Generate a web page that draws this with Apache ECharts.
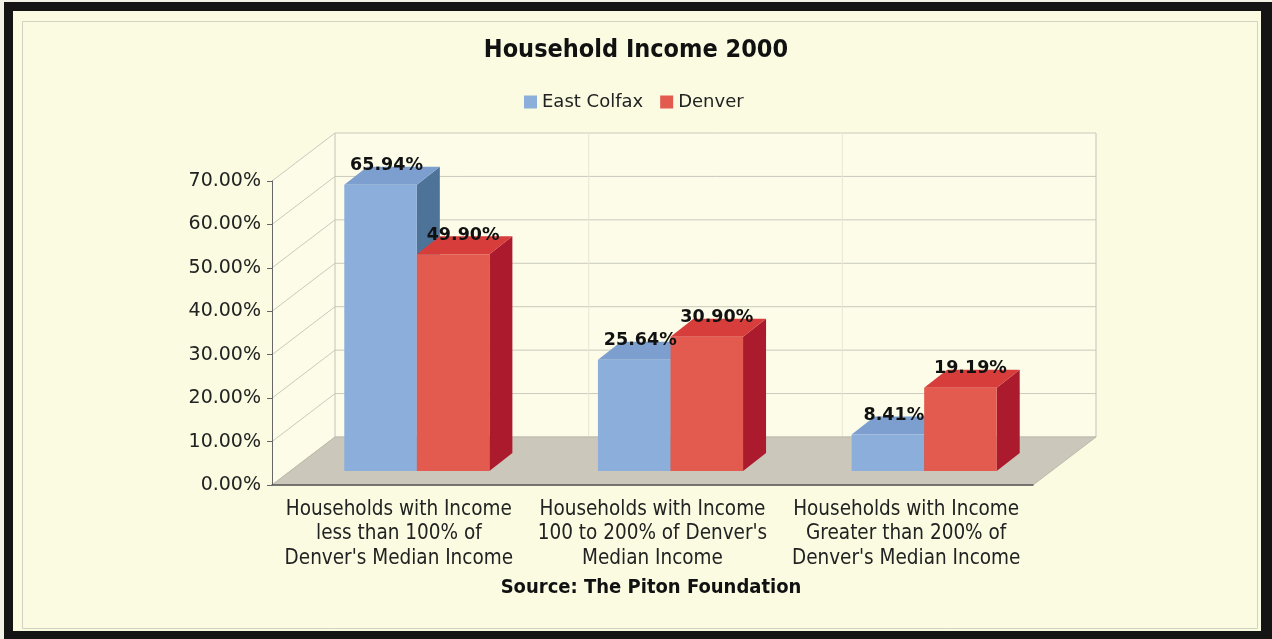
<!DOCTYPE html>
<html>
<head>
<meta charset="utf-8">
<title>Household Income 2000</title>
<script src="https://cdn.jsdelivr.net/npm/echarts@6/dist/echarts.min.js"></script>
<style>
  html, body { margin: 0; padding: 0; background: #f3f3ea; }
  #chart { width: 1272px; height: 639px; }
</style>
</head>
<body>
<div id="chart"></div>
<script>
// ---- data ----
const categories = [
  "Households with Income\nless than 100% of\nDenver's Median Income",
  "Households with Income\n100 to 200% of Denver's\nMedian Income",
  "Households with Income\nGreater than 200% of\nDenver's Median Income"
];
const eastColfax = [65.94, 25.64, 8.41];
const denver = [49.90, 30.90, 19.19];
const yTicks = [0, 10, 20, 30, 40, 50, 60, 70];

// ---- 3D look ----
const DEPTH = { dx: 63, dy: -48 };       // floor / wall depth
const BAR_OFFSET = { dx: 18, dy: -14 };  // bars stand a bit back on the floor
const BAR_DEPTH = { dx: 23, dy: -18 };
const BAR_FRAC = 0.286;                  // bar width as a share of the category band

const BLUE = { front: '#8caedb', top: '#7d9fd0', side: '#4d7399' };
const RED = { front: '#e35a4f', top: '#d63d3b', side: '#ac1a2d' };

const SANS = "'DejaVu Sans', Verdana, sans-serif";
const NARROW = "'DejaVu Sans Condensed', 'DejaVu Sans', Tahoma, sans-serif";

// floor, side wall, back wall and their grid lines
function renderScene(params, api) {
  const band = api.size([1, 0])[0];
  const left = api.coord([0, 0])[0] - band / 2;
  const right = api.coord([categories.length - 1, 0])[0] + band / 2;
  const yMin = api.coord([0, yTicks[0]])[1];
  const yMax = api.coord([0, yTicks[yTicks.length - 1]])[1];
  const { dx, dy } = DEPTH;
  const lineStyle = { stroke: '#cacabd', lineWidth: 1, fill: null };
  const children = [
    { type: 'polygon', shape: { points: [[left, yMax], [left + dx, yMax + dy], [left + dx, yMin + dy], [left, yMin]] },
      style: { fill: '#fcfce8' } },
    { type: 'rect', shape: { x: left + dx, y: yMax + dy, width: right - left, height: yMin - yMax },
      style: { fill: '#fcfce8' } }
  ];
  yTicks.forEach(t => {
    const y = api.coord([0, t])[1];
    children.push({ type: 'line', shape: { x1: left, y1: y, x2: left + dx, y2: y + dy }, style: lineStyle });
    children.push({ type: 'line', shape: { x1: left + dx, y1: y + dy, x2: right + dx, y2: y + dy }, style: lineStyle });
  });
  for (let i = 0; i <= categories.length; i++) {
    const x = left + band * i + dx;
    children.push({ type: 'line', shape: { x1: x, y1: yMax + dy, x2: x, y2: yMin + dy },
      style: { stroke: i === 0 || i === categories.length ? '#c4c4b8' : '#e6e6d6', lineWidth: 1 } });
  }
  children.push({ type: 'polygon',
    shape: { points: [[left, yMin], [left + dx, yMin + dy], [right + dx, yMin + dy], [right, yMin]] },
    style: { fill: '#cbc7ba', stroke: '#bdb9ac', lineWidth: 1 } });
  return { type: 'group', children };
}

function renderBar(slot, shade) {
  return function (params, api) {
    const c = api.value(0), v = api.value(1);
    const base = api.coord([c, 0]);
    const top = api.coord([c, v]);
    const band = api.size([1, 0])[0];
    const w = band * BAR_FRAC;
    const gx = base[0] + BAR_OFFSET.dx;
    const x0 = slot === 0 ? gx - w : gx;
    const x1 = x0 + w;
    const yb = base[1] + BAR_OFFSET.dy;
    const yt = top[1] + BAR_OFFSET.dy;
    const { dx, dy } = BAR_DEPTH;
    return {
      type: 'group',
      children: [
        { type: 'polygon', shape: { points: [[x1, yt], [x1 + dx, yt + dy], [x1 + dx, yb + dy], [x1, yb]] },
          style: { fill: shade.side } },
        { type: 'polygon', shape: { points: [[x0, yt], [x1, yt], [x1 + dx, yt + dy], [x0 + dx, yt + dy]] },
          style: { fill: shade.top } },
        { type: 'rect', shape: { x: x0, y: yt, width: w, height: yb - yt }, style: { fill: shade.front } }
      ]
    };
  };
}

function renderLabel(slot, shift) {
  return function (params, api) {
    const c = api.value(0), v = api.value(1);
    const base = api.coord([c, 0]);
    const top = api.coord([c, v]);
    const band = api.size([1, 0])[0];
    const w = band * BAR_FRAC;
    const gx = base[0] + BAR_OFFSET.dx;
    const cx = (slot === 0 ? gx - w / 2 : gx + w / 2) + shift;
    const yt = top[1] + BAR_OFFSET.dy;
    return {
      type: 'text',
      x: cx, y: yt - 19,
      style: {
        text: v.toFixed(2) + '%',
        fill: '#111',
        font: "bold 17.5px 'DejaVu Sans', Verdana, sans-serif",
        align: 'center', verticalAlign: 'middle'
      }
    };
  };
}

const pairs = arr => arr.map((v, i) => [i, v]);

const chart = echarts.init(document.getElementById('chart'));
chart.setOption({
  animation: false,
  backgroundColor: '#fbfbe2',
  title: {
    text: 'Household Income 2000',
    left: 'center',
    top: 33,
    textStyle: { fontFamily: NARROW, fontWeight: 'bold', fontSize: 25, color: '#111' }
  },
  legend: {
    data: ['East Colfax', 'Denver'],
    left: 519,
    top: 88,
    icon: 'rect',
    itemWidth: 13,
    itemHeight: 13,
    itemGap: 17,
    itemStyle: { borderWidth: 0 },
    textStyle: { fontFamily: SANS, fontSize: 18, color: '#222' }
  },
  grid: { left: 272, right: 239, top: 181, bottom: 154 },
  xAxis: {
    type: 'category',
    data: categories,
    z: 3,
    axisLine: { lineStyle: { color: '#555', width: 1.5 } },
    axisTick: { show: false },
    axisLabel: { interval: 0, margin: 12, fontFamily: NARROW, fontSize: 20.5, lineHeight: 24.5, color: '#222' },
    splitLine: { show: false }
  },
  yAxis: {
    type: 'value',
    min: 0, max: 70, interval: 10,
    z: 3,
    axisLine: { show: true, lineStyle: { color: '#666' } },
    axisTick: { show: true, length: 5, lineStyle: { color: '#666' } },
    axisLabel: { margin: 11, fontFamily: SANS, fontSize: 19, color: '#222',
      formatter: v => v.toFixed(2) + '%' },
    splitLine: { show: false }
  },
  series: [
    { type: 'custom', name: 'scene', z: 1, silent: true, renderItem: renderScene, data: [[0, 0]] },
    { type: 'custom', name: 'East Colfax', z: 2, renderItem: renderBar(0, BLUE),
      itemStyle: { color: BLUE.front }, data: pairs(eastColfax) },
    { type: 'custom', name: 'Denver', z: 2, renderItem: renderBar(1, RED),
      itemStyle: { color: RED.front }, data: pairs(denver) },
    { type: 'custom', name: 'East Colfax labels', z: 4, silent: true, renderItem: renderLabel(0, 6), data: pairs(eastColfax) },
    { type: 'custom', name: 'Denver labels', z: 4, silent: true, renderItem: renderLabel(1, 10), data: pairs(denver) }
  ],
  graphic: [
    // dark picture frame
    { type: 'rect', shape: { x: 4, y: 2, width: 1268, height: 9 }, style: { fill: '#141414' } },
    { type: 'rect', shape: { x: 4, y: 2, width: 9, height: 637 }, style: { fill: '#141414' } },
    { type: 'rect', shape: { x: 1261, y: 2, width: 11, height: 637 }, style: { fill: '#141414' } },
    { type: 'rect', shape: { x: 4, y: 631, width: 1268, height: 8 }, style: { fill: '#141414' } },
    { type: 'rect', shape: { x: 0, y: 0, width: 4, height: 639 }, style: { fill: '#f1f1e6' } },
    { type: 'rect', shape: { x: 0, y: 0, width: 1272, height: 2 }, style: { fill: '#f1f1e6' } },
    // thin inner border
    { type: 'rect', shape: { x: 22.5, y: 21.5, width: 1235, height: 607 },
      style: { fill: null, stroke: '#d2d2c2', lineWidth: 1 } },
    {
      type: 'text', x: 651, y: 588,
      style: { text: 'Source: The Piton Foundation', fill: '#111',
        font: "bold 20px 'DejaVu Sans Condensed', 'DejaVu Sans', Tahoma, sans-serif",
        align: 'center', verticalAlign: 'middle' }
    }
  ]
});
</script>
</body>
</html>
